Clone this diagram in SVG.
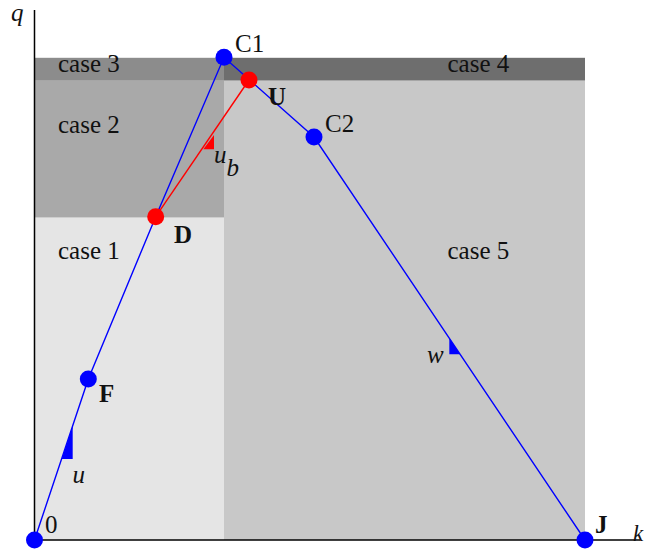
<svg xmlns="http://www.w3.org/2000/svg" width="647" height="549" viewBox="0 0 647 549">
<style>
text{font-family:"Liberation Serif","Times New Roman",serif;font-size:25px;fill:#111}
.b{font-weight:bold}
.i{font-style:italic}
.blue{fill:#0000ff}
.red{fill:#ff0000}
.ln{fill:none;stroke-width:1.4}
</style>
<rect width="647" height="549" fill="#fff"/>
<g id="regions">
<rect x="34.5" y="217.5" width="189.5" height="322.5" fill="#e5e5e5"/>
<rect x="34.5" y="80.7" width="189.5" height="136.8" fill="#a9a9a9"/>
<rect x="34.5" y="57.8" width="189.5" height="22.9" fill="#8c8c8c"/>
<rect x="224" y="57.8" width="361" height="22.9" fill="#6e6e6e"/>
<rect x="224" y="80.7" width="361" height="459.3" fill="#c8c8c8"/>
<text x="58" y="72">case 3</text>
<text x="58" y="133">case 2</text>
<text x="58" y="259">case 1</text>
<text x="447.5" y="72">case 4</text>
<text x="447.5" y="259">case 5</text>
</g>
<g id="axes">
<line x1="34.5" y1="10" x2="34.5" y2="540" stroke="#000" stroke-width="1.5"/>
<line x1="34.5" y1="540" x2="640" y2="540" stroke="#000" stroke-width="1.5"/>
<text class="i" x="11" y="21">q</text>
<text class="i" x="633" y="541" style="font-size:23px">k</text>
</g>
<g id="connectors">
<polyline class="ln" stroke="#0000ff" points="34.5,540 88.3,379 155.7,216.7 224,57.3 314,137 585,540"/>
<line class="ln" stroke="#ff0000" x1="155.7" y1="216.7" x2="249" y2="80"/>
<polygon class="blue" points="61.7,459 72.7,459 72.7,425.5"/>
<polygon class="red" points="203.3,149.3 214,149.3 214,135"/>
<polygon class="blue" points="449.3,338 449.3,354.3 460,354.3"/>
<text class="i" x="72.5" y="483">u</text>
<text class="i" x="214" y="162.5">u</text>
<text class="i" x="226.5" y="176">b</text>
<text class="i" x="427" y="363">w</text>
</g>
<g id="node-0"><circle class="blue" cx="34.5" cy="540" r="8.5"/><text x="45" y="533">0</text></g>
<g id="node-F"><circle class="blue" cx="88.3" cy="379" r="8.5"/><text class="b" x="99" y="401.5">F</text></g>
<g id="node-D"><circle class="red" cx="155.7" cy="216.7" r="8.5"/><text class="b" x="174" y="242.5">D</text></g>
<g id="node-C1"><circle class="blue" cx="224" cy="57.3" r="8.5"/><text x="235" y="51.5">C1</text></g>
<g id="node-U"><circle class="red" cx="249" cy="80" r="8.5"/><text class="b" x="268" y="105">U</text></g>
<g id="node-C2"><circle class="blue" cx="314" cy="137" r="8.5"/><text x="325" y="131.5">C2</text></g>
<g id="node-J"><circle class="blue" cx="585" cy="540" r="8.5"/><text class="b" x="595" y="533">J</text></g>
</svg>
